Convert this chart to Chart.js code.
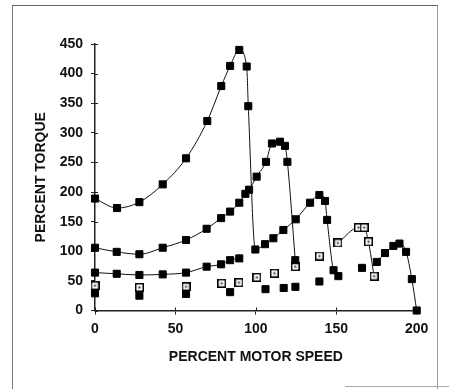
<!DOCTYPE html>
<html>
<head>
<meta charset="utf-8">
<script src="https://cdn.jsdelivr.net/npm/chart.js@4/dist/chart.umd.min.js"></script>
<style>
  html, body { margin: 0; padding: 0; background: #fff; }
  #wrap { position: relative; width: 449px; height: 389px; overflow: hidden; }
  #frame { position: absolute; left: 12px; top: 5px; width: 424px; height: 400px;
           border-left: 1px solid #777; border-top: 1px solid #666; border-right: 1px solid #999; }
  #stub { position: absolute; left: 345px; top: 386px; width: 104px; height: 0; border-top: 1px solid #aaa; }
  canvas { position: absolute; left: 0; top: 0; }
</style>
</head>
<body>
<div id="wrap">
  <div id="frame"></div>
  <div id="stub"></div>
  <canvas id="c" width="449" height="389"></canvas>
</div>
<script>
// ---- data ----
const xTicks = [0, 50, 100, 150, 200];
const yTicks = [0, 50, 100, 150, 200, 250, 300, 350, 400, 450];

const topSpeed  = [0, 13.7, 27.6, 42.1, 56.6, 69.8, 78.5, 84, 89.7, 94.3, 95.3, 99.7, 105.7, 110.9, 117.1, 124.8, 133.7, 139.5, 143, 144.3, 148.3, 151.3];
const topTorque = [189, 173, 183, 213, 257, 320, 379, 413, 440, 412, 345, 103, 112, 122, 136, 154, 182, 195, 185, 153, 68, 58];

const midSpeed  = [0, 13.5, 27.6, 42.1, 56.6, 69.4, 78.4, 84, 89.7, 93.5, 95.8, 100.5, 106.3, 110, 115, 118.1, 119.6, 124.5];
const midTorque = [106, 99, 95, 106, 119, 138, 156, 167, 182, 197, 204, 226, 251, 282, 285, 278, 251, 85];

const lowSpeed  = [0, 13.5, 27.6, 42.1, 56.6, 69.4, 78.4, 84, 89.7];
const lowTorque = [64, 62, 60, 61, 64, 74, 78, 85, 88];

const openLineSpeed  = [151, 163.8, 167.3, 170, 173.5];
const openLineTorque = [114, 140, 140, 116, 58];

const endSpeed  = [175.2, 180.3, 185.5, 189.3, 193.4, 197, 200];
const endTorque = [82, 97, 109, 113, 99, 53, 0];

const dotSpeed  = [0, 27.6, 56.6, 84, 106, 117.3, 124.6, 139.5, 166];
const dotTorque = [29, 25, 28, 31, 36, 38, 40, 49, 72];

const boxSpeed  = [0, 27.6, 56.6, 78.8, 89.5, 100.6, 111.5, 124.5, 139.5];
const boxTorque = [42, 39, 40, 46, 47, 56, 63, 74, 92];

// ---- helpers ----
const pts = (xs, ys) => xs.map((x, i) => ({ x: x, y: ys[i] }));

function openMarker() {
  const c = document.createElement('canvas');
  c.width = 9; c.height = 9;
  const g = c.getContext('2d');
  g.fillStyle = '#000'; g.fillRect(0, 0, 9, 9);
  g.fillStyle = '#fff'; g.fillRect(1.5, 1.5, 6, 6);
  g.fillStyle = '#333'; g.fillRect(3.5, 3.5, 2, 2);
  return c;
}
const OPEN = openMarker();

const filledLine = (data) => ({
  data: data, showLine: true, borderColor: '#111', borderWidth: 1,
  cubicInterpolationMode: 'monotone',
  pointStyle: 'rect', pointRadius: 5, pointBackgroundColor: '#000', pointBorderColor: '#000', pointBorderWidth: 1,
  clip: false
});

const crossTicks = {
  id: 'crossTicks',
  afterDraw(chart) {
    const { ctx, scales: { x, y } } = chart;
    ctx.save();
    ctx.strokeStyle = '#222'; ctx.lineWidth = 1;
    ctx.beginPath();
    x.ticks.forEach((t, i) => { const px = Math.round(x.getPixelForTick(i)) + 0.5; ctx.moveTo(px, x.top); ctx.lineTo(px, x.top - 3); });
    y.ticks.forEach((t, i) => { const py = Math.round(y.getPixelForTick(i)) + 0.5; ctx.moveTo(y.right, py); ctx.lineTo(y.right + 3, py); });
    ctx.stroke();
    ctx.restore();
  }
};

const FONT = { family: '"Liberation Sans", Arial, sans-serif', size: 14, weight: 'bold' };
const PAD_L = 20, PAD_B = 10;

new Chart(document.getElementById('c'), {
  type: 'scatter',
  data: {
    datasets: [
      filledLine(pts(topSpeed, topTorque)),
      filledLine(pts(midSpeed, midTorque)),
      filledLine(pts(lowSpeed, lowTorque)),
      { data: pts(openLineSpeed, openLineTorque), showLine: true, borderColor: '#111', borderWidth: 1,
        cubicInterpolationMode: 'monotone', pointStyle: OPEN, clip: false },
      filledLine(pts(endSpeed, endTorque)),
      { data: pts(dotSpeed, dotTorque), showLine: false, pointStyle: 'rect', pointRadius: 5,
        pointBackgroundColor: '#000', pointBorderColor: '#000', pointBorderWidth: 1, clip: false },
      { data: pts(boxSpeed, boxTorque), showLine: false, pointStyle: OPEN, clip: false }
    ]
  },
  options: {
    responsive: false,
    animation: false,
    events: [],
    layout: { padding: { left: PAD_L, top: 44, right: 32.3, bottom: PAD_B } },
    plugins: { legend: { display: false }, tooltip: { enabled: false } },
    scales: {
      x: {
        type: 'linear', min: 0, max: 200,
        afterBuildTicks: (s) => { s.ticks = xTicks.map(v => ({ value: v })); },
        afterFit: (s) => { s.height = 389 - PAD_B - 310.5; },
        border: { display: true, color: '#222', width: 1.5 },
        grid: { display: true, drawOnChartArea: false, drawTicks: true, tickLength: 4, color: '#222' },
        ticks: { color: '#111', font: FONT, padding: 6, maxRotation: 0 },
        title: { display: true, text: 'PERCENT MOTOR SPEED', color: '#111', font: FONT, padding: { top: 0, bottom: 13 } }
      },
      y: {
        type: 'linear', min: 0, max: 450,
        afterBuildTicks: (s) => { s.ticks = yTicks.map(v => ({ value: v })); },
        afterFit: (s) => { s.width = 95 - PAD_L; },
        border: { display: true, color: '#222', width: 1.5 },
        grid: { display: true, drawOnChartArea: false, drawTicks: true, tickLength: 4, color: '#222' },
        ticks: { color: '#111', font: FONT, padding: 8 },
        title: { display: true, text: 'PERCENT TORQUE', color: '#111', font: FONT, padding: { top: 13, bottom: 0 } }
      }
    }
  },
  plugins: [crossTicks]
});
</script>
</body>
</html>
